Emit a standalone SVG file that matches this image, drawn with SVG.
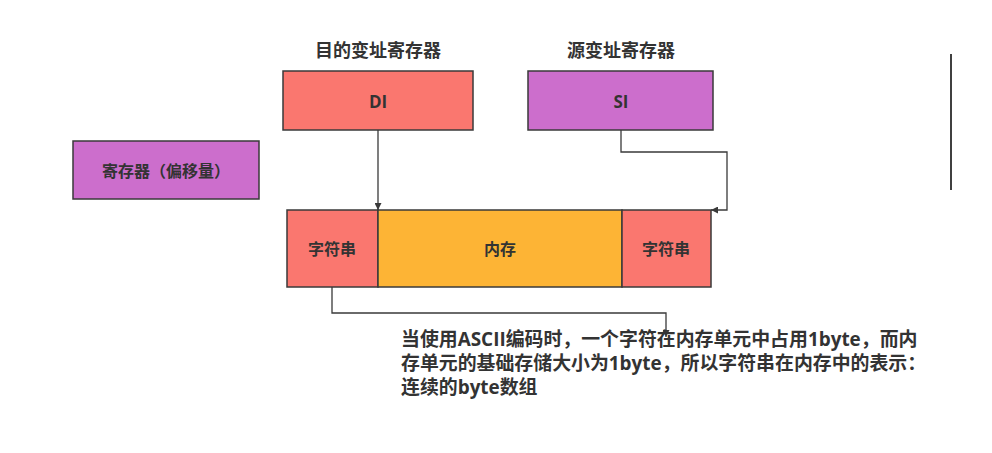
<svg xmlns="http://www.w3.org/2000/svg" width="992" height="453" viewBox="0 0 992 453">
<style>
text{font-family:"Open Sans","Noto Sans CJK SC",sans-serif;font-weight:bold;fill:#333333}
.t{font-size:18px;text-anchor:middle}
.b{font-size:16px;text-anchor:middle;dominant-baseline:central}
.bl{font-size:17px}
.n{stroke:#3a3a3a;stroke-width:1.5}
.red{fill:#FA776F}
.pur{fill:#CC6ECC}
.org{fill:#FDB435}
.c{fill:none;stroke:#3a3a3a;stroke-width:1.3}
.note{font-size:18.9px}
</style>
<defs>
<marker id="ah" viewBox="0 0 10 10" refX="10" refY="5" markerWidth="7" markerHeight="7" markerUnits="userSpaceOnUse" orient="auto">
<path d="M0,0 L10,5 L0,10 Z" fill="#3a3a3a"/>
</marker>
</defs>
<rect width="992" height="453" fill="#ffffff"/>
<g id="title-di"><text class="t" x="378" y="57">目的变址寄存器</text></g>
<g id="title-si"><text class="t" x="621" y="57">源变址寄存器</text></g>
<g id="di"><rect class="n red" x="283" y="71" width="190" height="59"/><text class="b bl" x="378" y="101">DI</text></g>
<g id="si"><rect class="n pur" x="528" y="71" width="185" height="59"/><text class="b bl" x="621" y="101">SI</text></g>
<g id="reg"><rect class="n pur" x="73" y="141" width="186" height="58"/><text class="b" x="166" y="171">寄存器（偏移量）</text></g>
<g id="str1"><rect class="n red" x="287" y="210" width="91" height="77"/><text class="b" x="332" y="249">字符串</text></g>
<g id="mem"><rect class="n org" x="378" y="210" width="244" height="77"/><text class="b" x="500" y="249">内存</text></g>
<g id="str2"><rect class="n red" x="622" y="210" width="89" height="77"/><text class="b" x="666" y="249">字符串</text></g>
<g id="connectors">
<path class="c" d="M378,130 L378,210" marker-end="url(#ah)"/>
<path class="c" d="M621,130 L621,152 L727,152 L727,210 L711,210" marker-end="url(#ah)"/>
<path class="c" d="M332,287 L332,313 L666,313 L666,337" marker-end="url(#ah)"/>
</g>
<g id="note">
<text class="note" x="401" y="346">当使用ASCII编码时，一个字符在内存单元中占用1byte，而内</text>
<text class="note" x="401" y="370">存单元的基础存储大小为1byte，所以字符串在内存中的表示：</text>
<text class="note" x="401" y="394">连续的byte数组</text>
</g>
<line x1="951" y1="54" x2="951" y2="190" stroke="#000000" stroke-width="1.5"/>
</svg>
